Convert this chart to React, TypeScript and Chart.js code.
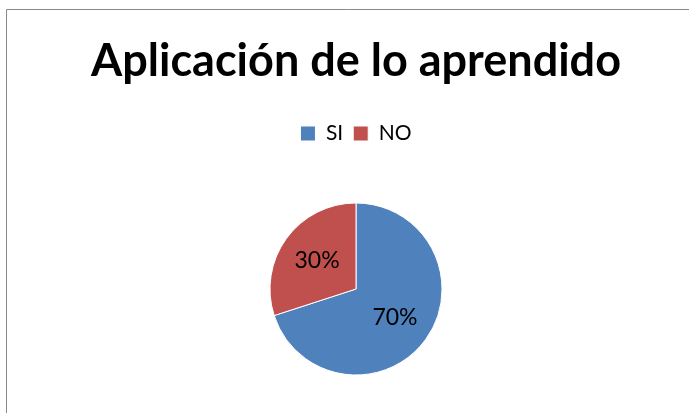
import React, { useEffect, useRef } from "react";
import { Chart, registerables } from "chart.js";

Chart.register(...registerables);

const categories = ["SI", "NO"];
const values = [70, 30];
const sliceLabels = ["70%", "30%"];
const colors = ["#4F81BD", "#C0504D"];
const titleText = "Aplicación de lo aprendido";

const framePlugin = {
  id: "frame",
  beforeDraw(chart: any) {
    const ctx = chart.ctx;
    ctx.save();
    ctx.fillStyle = "#ffffff";
    ctx.fillRect(0, 0, chart.width, chart.height);
    ctx.strokeStyle = "#8a8a8a";
    ctx.lineWidth = 1;
    ctx.beginPath();
    ctx.moveTo(6.5, chart.height + 5);
    ctx.lineTo(6.5, 9.5);
    ctx.lineTo(chart.width + 5, 9.5);
    ctx.stroke();
    ctx.restore();
  },
};

const sliceLabelPlugin = {
  id: "sliceLabels",
  afterDatasetsDraw(chart: any) {
    const ctx = chart.ctx;
    const meta = chart.getDatasetMeta(0);
    ctx.save();
    ctx.font = "23px Lato";
    ctx.fillStyle = "#000000";
    ctx.textAlign = "center";
    ctx.textBaseline = "middle";
    meta.data.forEach((arc: any, i: number) => {
      const p = arc.getProps(["x", "y", "startAngle", "endAngle", "outerRadius"], true);
      const mid = (p.startAngle + p.endAngle) / 2;
      const r = p.outerRadius * 0.56;
      ctx.fillText(sliceLabels[i], p.x + Math.cos(mid) * r, p.y + Math.sin(mid) * r);
    });
    ctx.restore();
  },
};

export default function App() {
  const ref = useRef<HTMLCanvasElement>(null);
  useEffect(() => {
    if (!ref.current) return;
    const chart = new Chart(ref.current, {
      type: "pie",
      data: {
        labels: categories,
        datasets: [
          {
            data: values,
            backgroundColor: colors,
            borderColor: "#ffffff",
            borderWidth: 1,
            radius: 86,
          },
        ],
      },
      options: {
        responsive: false,
        animation: false,
        layout: { padding: { left: 23, right: 0, top: 0, bottom: 6 } },
        plugins: {
          title: {
            display: true,
            text: titleText,
            color: "#000000",
            font: { family: "Lato", size: 45, weight: "bold" },
            padding: { top: 34, bottom: 25 },
          },
          legend: {
            display: true,
            position: "top",
            labels: {
              color: "#000000",
              font: { family: "Lato", size: 21 },
              boxWidth: 15,
              boxHeight: 15,
              padding: 10,
            },
          },
          tooltip: { enabled: false },
        },
      },
      plugins: [framePlugin, sliceLabelPlugin],
    });
    return () => chart.destroy();
  }, []);
  return (
    <div
      style={{
        position: "fixed",
        left: 0,
        top: 0,
        width: 689,
        height: 413,
        overflow: "hidden",
        background: "#fff",
      }}
    >
      <canvas ref={ref} width={689} height={430} style={{ display: "block" }} />
    </div>
  );
}
